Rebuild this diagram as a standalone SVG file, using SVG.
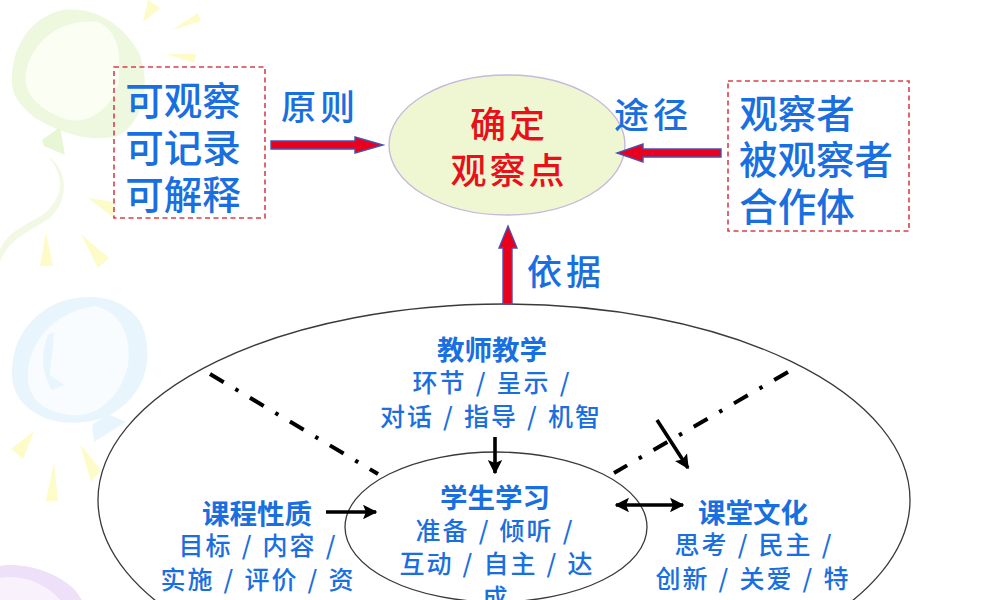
<svg xmlns="http://www.w3.org/2000/svg" width="1000" height="600" viewBox="0 0 1000 600">
<style>
text{font-family:"Noto Sans CJK SC","Noto Sans",sans-serif;fill:#1a6fe0;text-anchor:middle;dominant-baseline:central}
.big{font-size:38.5px;font-weight:500}
.tag{font-size:35px;letter-spacing:4px;font-weight:500}
.red{font-size:36px;letter-spacing:3px;fill:#e8101a;font-weight:500}
.head{font-size:27.5px;font-weight:700}
.sub{font-size:25px;letter-spacing:2px;word-spacing:1.5px;font-weight:500}
.box{fill:none;stroke:#d8404c;stroke-width:1.6;stroke-dasharray:5 3.5}
.ring{fill:none;stroke:#3a3a3a;stroke-width:1.3}
.blk{stroke:#000;stroke-width:3.6;fill:none}
.dd{stroke:#000;stroke-width:4;stroke-dasharray:16 13.5 3.5 13.5;fill:none}
.big-arrow{fill:#e8001c;stroke:#4a50b0;stroke-width:1.4}
.y{fill:#fdfbc8}
</style>
<defs>
<marker id="tip" viewBox="0 0 10 10" refX="9" refY="5" markerWidth="4" markerHeight="4.4" orient="auto-start-reverse" markerUnits="strokeWidth"><path d="M0 0L10 5L0 10L2 5Z" fill="#000"/></marker>
</defs>
<rect width="1000" height="600" fill="#fff"/>
<!-- pastel balloons and rays behind the content -->
<g id="backdrop">
<path d="M12 75C14 45 30 18 62 10C95 6 125 25 140 55C150 85 145 118 120 135C90 145 55 130 35 118C20 105 10 95 12 75Z" fill="#edf8de"/>
<path d="M26 72C32 40 62 18 98 22C118 30 122 55 118 85C110 112 85 124 68 120C42 112 22 95 26 72Z" fill="#fafef3"/>
<path d="M42 140L60 127L65 155L44 146Z" fill="#e9f6d6"/>
<path d="M48 156C64 175 65 195 45 213C28 225 8 230 0 250L0 262C8 240 28 232 50 218C68 200 70 172 48 156Z" fill="#f1f9e4"/>
<path class="y" d="M143 22L148 0L160 8Z"/><path class="y" d="M172 30L198 13L201 21Z"/><path class="y" d="M165 54L196 54L194 63Z"/><path class="y" d="M88 198L114 202L114 218Z"/><path class="y" d="M46 232L40 266L53 266Z"/><path class="y" d="M81 234L109 258L98 268Z"/>
<path d="M12 372C12 335 35 312 60 302C90 292 125 296 142 325C155 360 145 395 110 415C80 428 45 425 25 405C15 395 12 385 12 372Z" fill="#e9f5fd"/>
<path d="M28 372C30 340 55 312 95 306C120 312 132 335 128 365C120 400 95 418 70 415C45 412 26 400 28 372Z" fill="#f8fcff"/>
<path d="M48 335L54 332L50 375L64 385L52 390C40 370 42 350 48 335Z" fill="#e9f5fd"/>
<path d="M92 425L108 414L126 422L94 442Z" fill="#e9f5fd"/>
<path class="y" d="M34 431L11 449L23 459Z"/><path class="y" d="M54 462L46 501L58 501Z"/><path class="y" d="M80 444L91 482L101 470Z"/>
<path d="M0 566C20 562 55 570 75 590L82 600L0 600Z" fill="#eee0f8"/>
<path d="M0 578C20 574 45 582 60 600L0 600Z" fill="#f9f2fd"/>
</g>
<g id="basis-ellipse"><ellipse class="ring" cx="504" cy="500" rx="406" ry="196"/></g>
<g id="student-ellipse"><ellipse class="ring" cx="496" cy="527" rx="151" ry="75"/></g>
<g id="observe-point">
<ellipse cx="507" cy="145" rx="118" ry="70" fill="#eef7d2" stroke="#c8b8dc" stroke-width="1.4"/>
<text class="red" x="509" y="122">确定</text>
<text class="red" x="509" y="168">观察点</text>
</g>
<g id="connectors">
<path class="big-arrow" d="M271 141H355V137L383 145L355 153V149H271Z"/>
<path class="big-arrow" d="M721 149H643V144L617 153L643 162V157H721Z"/>
<path class="big-arrow" d="M503 304V248H499L508 226L517 248H512V304Z"/>
<path class="dd" d="M210 374L378 474"/>
<path class="dd" d="M788 372L614 473"/>
<path class="blk" d="M495 437V473" marker-end="url(#tip)"/>
<path class="blk" d="M326 512H376" marker-end="url(#tip)"/>
<path class="blk" d="M616 505H683" marker-start="url(#tip)" marker-end="url(#tip)"/>
<path class="blk" d="M657 420L688 468" marker-end="url(#tip)"/>
</g>
<g id="criteria">
<rect class="box" x="114" y="67" width="151" height="151"/>
<text class="big" x="183" y="98">可观察</text>
<text class="big" x="183" y="145">可记录</text>
<text class="big" x="183" y="192">可解释</text>
</g>
<g id="observers">
<rect class="box" x="728" y="81" width="181" height="150"/>
<text class="big" x="797" y="111">观察者</text>
<text class="big" x="816" y="157">被观察者</text>
<text class="big" x="797" y="204">合作体</text>
</g>
<g id="label-principle"><text class="tag" x="320" y="104">原则</text></g>
<g id="label-route"><text class="tag" x="653" y="112">途径</text></g>
<g id="label-basis"><text class="tag" x="566" y="269">依据</text></g>
<g id="teaching">
<text class="head" x="492" y="348">教师教学</text>
<text class="sub" x="492" y="381">环节 / 呈示 /</text>
<text class="sub" x="491" y="415">对话 / 指导 / 机智</text>
</g>
<g id="learning">
<text class="head" x="495" y="496">学生学习</text>
<text class="sub" x="495" y="529">准备 / 倾听 /</text>
<text class="sub" x="497" y="562">互动 / 自主 / 达</text>
<text class="sub" x="496" y="596">成</text>
</g>
<g id="curriculum">
<text class="head" x="257" y="512">课程性质</text>
<text class="sub" x="258" y="544">目标 / 内容 /</text>
<text class="sub" x="258" y="578">实施 / 评价 / 资</text>
</g>
<g id="culture">
<text class="head" x="753" y="511">课堂文化</text>
<text class="sub" x="754" y="543">思考 / 民主 /</text>
<text class="sub" x="753" y="577">创新 / 关爱 / 特</text>
</g>
</svg>
